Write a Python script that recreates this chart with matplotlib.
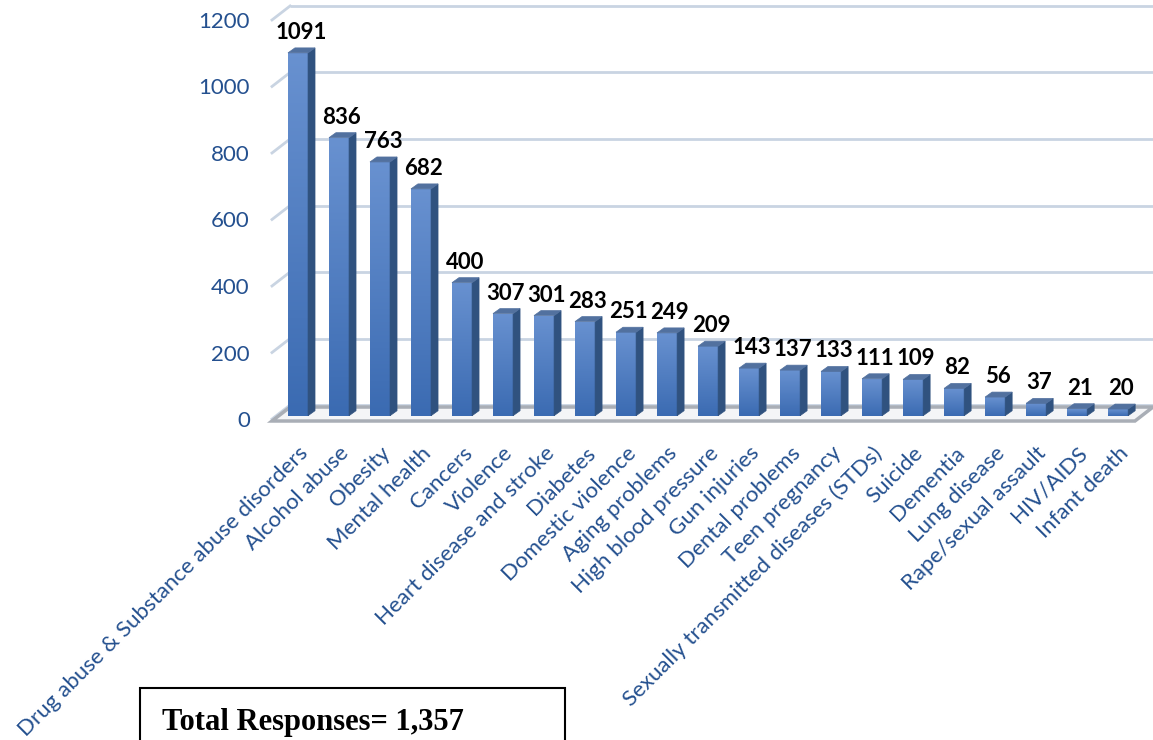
import numpy as np
import matplotlib
matplotlib.use("Agg")
import matplotlib.pyplot as plt
from matplotlib.patches import Polygon, Rectangle
from matplotlib.colors import LinearSegmentedColormap

# data
categories = ["Drug abuse & Substance abuse disorders", "Alcohol abuse", "Obesity",
              "Mental health", "Cancers", "Violence", "Heart disease and stroke",
              "Diabetes", "Domestic violence", "Aging problems", "High blood pressure",
              "Gun injuries", "Dental problems", "Teen pregnancy",
              "Sexually transmitted diseases (STDs)", "Suicide", "Dementia",
              "Lung disease", "Rape/sexual assault", "HIV/AIDS", "Infant death"]
responses = [1091, 836, 763, 682, 400, 307, 301, 283, 251, 249, 209,
             143, 137, 133, 111, 109, 82, 56, 37, 21, 20]
yticks = [0, 200, 400, 600, 800, 1000, 1200]
total_text = "Total Responses= 1,357"

blue = "#24508f"
grid_c = "#c9d4e2"

fig = plt.figure(figsize=(11.53, 7.4), dpi=100)
ax = fig.add_axes([272/1153, 315/740, 881/1153, 425/740])
xmin, xmax = -0.634, 20.85
ymin, ymax = -18, 1260

# fake 3d depth (category units, value units)
dx, dy = 0.44, 42
bw = 0.49
sdx, sdy = 0.17, 15
lift = 10

# back wall grid + left diagonals
for t in yticks:
    ax.plot([xmin + dx, xmax], [t + dy, t + dy], color=grid_c, lw=2, zorder=1,
            solid_capstyle="butt")
    ax.plot([xmin, xmin + dx], [t, t + dy], color=grid_c, lw=2, zorder=1,
            clip_on=False)

# floor
fl = -6
floor = Polygon([[xmin, fl], [20.41, fl], [20.41 + dx, fl + dy], [xmin + dx, fl + dy]],
                closed=True, facecolor="#f4f5f7", edgecolor="#a9aeb6", lw=2.5,
                zorder=2, clip_on=False)
ax.add_patch(floor)

cmap = LinearSegmentedColormap.from_list("bar", ["#3b6bb2", "#6891d0"])
grad = np.linspace(0, 1, 64).reshape(-1, 1)

x = np.arange(len(categories))
for i, v in zip(x, responses):
    x0, x1 = i - bw/2, i + bw/2
    y0, y1 = lift, v + lift
    front = Rectangle((x0, y0), bw, y1 - y0, facecolor="none", edgecolor="none", zorder=4)
    ax.add_patch(front)
    im = ax.imshow(grad, extent=[x0, x1, y0, y1], origin="lower", cmap=cmap,
                   aspect="auto", zorder=4, interpolation="bilinear")
    im.set_clip_path(front)
    side = Polygon([[x1, y0], [x1 + sdx, y0 + sdy], [x1 + sdx, y1 + sdy], [x1, y1]],
                   closed=True, facecolor="#30527f", edgecolor="#30527f", lw=0.5, zorder=4)
    top = Polygon([[x0, y1], [x1, y1], [x1 + sdx, y1 + sdy], [x0 + sdx, y1 + sdy]],
                  closed=True, facecolor="#52719f", edgecolor="#52719f", lw=0.5, zorder=5)
    ax.add_patch(side)
    ax.add_patch(top)
    ax.text(i + 0.07, v + lift + sdy + 15, str(v), ha="center", va="bottom",
            fontsize=16, fontweight="bold", family="Lato", color="black", zorder=6)

ax.set_xlim(xmin, xmax)
ax.set_ylim(ymin, ymax)
ax.set_yticks(yticks)
ax.set_yticklabels([str(t) for t in yticks], fontsize=16, family="Lato", color=blue)
ax.set_xticks(x)
ax.set_xticklabels(categories, rotation=45, ha="right", va="top",
                   rotation_mode="anchor", fontsize=16, family="Lato", color=blue)
ax.tick_params(axis="y", length=0, pad=16)
ax.tick_params(axis="x", length=0, pad=13)
for s in ax.spines.values():
    s.set_visible(False)
ax.patch.set_visible(False)

# total responses box
fig.patches.append(Rectangle((140/1153, -0.05), 425/1153, 0.05 + 52/740,
                             transform=fig.transFigure, facecolor="white",
                             edgecolor="black", lw=1.5, zorder=10))
fig.text(162/1153, 10/740, total_text, family="Liberation Serif", fontweight="bold",
         fontsize=22, ha="left", va="baseline", zorder=11)

fig.savefig("out.png", dpi=100)
